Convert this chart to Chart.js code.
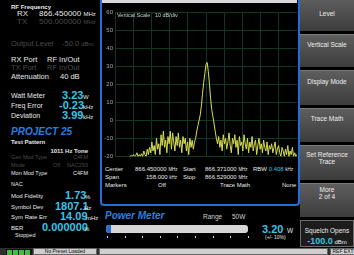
<!DOCTYPE html>
<html>
<head>
<meta charset="utf-8">
<script src="https://cdn.jsdelivr.net/npm/chart.js@4.4.1/dist/chart.umd.min.js"></script>
<style>
  html, body { margin: 0; padding: 0; background: #000; }
  #screen { position: relative; width: 354px; height: 255px; overflow: hidden; background: #000;
            font-family: "Liberation Sans", Arial, sans-serif; color: #e8e8e8; }
  .t { position: absolute; white-space: nowrap; line-height: 1; }
  .g { color: #4c4c4c; }
  .c { color: #35c6e8; font-weight: bold; }
  .u { font-size: 6px; }
  .r { text-align: right; }
  .p25 { color: #2a7ee0; font-weight: bold; font-style: italic; }
  #panel { position: absolute; left: 100px; top: 0; width: 196px; height: 204px;
           border: 2px solid #1f6fd6; border-top: none; border-radius: 0 0 4px 4px; }
  #topstrip { position: absolute; left: 102px; top: 0; width: 195px; height: 3px; background: #d8d8d8; }
  #plot { position: absolute; left: 101px; top: 0; }
  .btn { position: absolute; left: 300px; width: 54px; background: linear-gradient(#5e5e5e, #3c3c3c);
         border-top: 1px solid #7a7a7a; box-sizing: border-box; text-align: center; font-size: 6.5px; color: #f0f0f0; }
  .btn div { line-height: 1.15; }
  #bar { position: absolute; left: 106px; top: 225px; width: 142px; height: 8px; background: #d6d6d6;
         border-radius: 3px; overflow: hidden; }
  #bar div { width: 5px; height: 100%; background: #2a6fd0; }
  #ticks { position: absolute; left: 107px; top: 236px; width: 142px; height: 2px;
           background: repeating-linear-gradient(90deg, #ddd 0 1px, transparent 1px 17.6px); }
  #status { position: absolute; left: 0; top: 248px; width: 354px; height: 7px; background: #2e2e2e; }
  .box { position: absolute; top: 0; height: 7px; background: #cfcfcf; border: 1px solid #666; box-sizing: border-box;
         font-size: 5px; color: #111; text-align: center; line-height: 5px; }
</style>
</head>
<body>
<div id="screen">
  <!-- left readout column -->
  <div class="t" style="left:11px;top:4px;font-size:6px;font-weight:bold">RF Frequency</div>
  <div class="t" style="left:17px;top:10px;font-size:8px">RX</div>
  <div class="t" style="left:39px;top:10px;font-size:8px">866.450000 <span class="u">MHz</span></div>
  <div class="t g" style="left:17px;top:18px;font-size:8px">TX</div>
  <div class="t g" style="left:39px;top:18px;font-size:8px">500.000000 <span class="u">MHz</span></div>
  <div class="t g" style="left:11px;top:40px;font-size:7.5px">Output Level</div>
  <div class="t g" style="left:62px;top:40px;font-size:7.5px">-50.0 <span class="u">dBm</span></div>
  <div class="t" style="left:11px;top:56px;font-size:7.5px">RX Port</div>
  <div class="t" style="left:47px;top:56px;font-size:7.5px">RF In/Out</div>
  <div class="t g" style="left:11px;top:64px;font-size:7.5px">TX Port</div>
  <div class="t g" style="left:47px;top:64px;font-size:7.5px">RF In/Out</div>
  <div class="t" style="left:11px;top:73px;font-size:7.5px">Attenuation</div>
  <div class="t" style="left:60px;top:73px;font-size:7.5px">40 dB</div>

  <div class="t" style="left:11px;top:92px;font-size:7px">Watt Meter</div>
  <div class="t c" style="left:62px;top:90px;font-size:11px">3.23</div>
  <div class="t u" style="left:83px;top:94px">W</div>
  <div class="t" style="left:11px;top:102px;font-size:7px">Freq Error</div>
  <div class="t c" style="left:59px;top:100px;font-size:11px">-0.23</div>
  <div class="t u" style="left:83px;top:104px">kHz</div>
  <div class="t" style="left:11px;top:112px;font-size:7px">Deviation</div>
  <div class="t c" style="left:62px;top:110px;font-size:11px">3.99</div>
  <div class="t u" style="left:83px;top:114px">kHz</div>

  <div class="t p25" style="left:11px;top:127px;font-size:10px">PROJECT 25</div>
  <div class="t" style="left:11px;top:139px;font-size:6px;font-weight:bold">Test Pattern</div>
  <div class="t r" style="left:40px;width:48px;top:148px;font-size:6px;font-weight:bold">1011 Hz Tone</div>
  <div class="t g" style="left:11px;top:155px;font-size:5.5px">Gen Mod Type</div>
  <div class="t g r" style="left:60px;width:28px;top:155px;font-size:5.5px">C4FM</div>
  <div class="t g" style="left:11px;top:163px;font-size:5.5px">Mode</div>
  <div class="t g" style="left:53px;top:163px;font-size:5.5px">Off</div>
  <div class="t g" style="left:67px;top:163px;font-size:5.5px">NAC</div>
  <div class="t g r" style="left:70px;width:18px;top:163px;font-size:5.5px">293</div>
  <div class="t" style="left:11px;top:171px;font-size:5.5px">Mon Mod Type</div>
  <div class="t r" style="left:60px;width:28px;top:171px;font-size:5.5px">C4FM</div>
  <div class="t" style="left:11px;top:182px;font-size:5.5px">NAC</div>

  <div class="t" style="left:11px;top:193px;font-size:6px">Mod Fidelity</div>
  <div class="t c" style="left:65px;top:190px;font-size:11px">1.73</div>
  <div class="t u" style="left:85px;top:194px">%</div>
  <div class="t" style="left:11px;top:204px;font-size:6px">Symbol Dev</div>
  <div class="t c" style="left:55px;top:201px;font-size:11px">1807.1</div>
  <div class="t u" style="left:84px;top:205px">Hz</div>
  <div class="t" style="left:11px;top:214px;font-size:6px">Sym Rate Err</div>
  <div class="t c" style="left:60px;top:211px;font-size:11px">14.09</div>
  <div class="t u" style="left:86px;top:215px">mHz</div>
  <div class="t" style="left:11px;top:225px;font-size:6px">BER</div>
  <div class="t c" style="left:42px;top:222px;font-size:11px">0.000000</div>
  <div class="t u" style="left:84px;top:226px">%</div>
  <div class="t" style="left:15px;top:233px;font-size:5.5px">Stopped</div>

  <!-- spectrum panel -->
  <div id="panel"></div>
  <div id="topstrip"></div>
  <canvas id="plot" width="196" height="162"></canvas>
  <div class="t" style="left:117px;top:13px;font-size:5.5px;color:#d0d0d0">Vertical Scale &nbsp; 10 dB/div</div>

  <div class="t" style="left:105px;top:166px;font-size:6px">Center</div>
  <div class="t" style="left:135px;top:166px;font-size:6px">866.450000 <span style="font-size:4.5px">MHz</span></div>
  <div class="t" style="left:183px;top:166px;font-size:6px">Start</div>
  <div class="t" style="left:205px;top:166px;font-size:6px">866.371000 <span style="font-size:4.5px">MHz</span></div>
  <div class="t" style="left:253px;top:166px;font-size:6px">RBW <span class="c" style="font-weight:normal">0.408</span> <span style="font-size:4.5px">kHz</span></div>
  <div class="t" style="left:105px;top:174px;font-size:6px">Span</div>
  <div class="t" style="left:146px;top:174px;font-size:6px">158.000 <span style="font-size:4.5px">kHz</span></div>
  <div class="t" style="left:183px;top:174px;font-size:6px">Stop</div>
  <div class="t" style="left:205px;top:174px;font-size:6px">866.529000 <span style="font-size:4.5px">MHz</span></div>
  <div class="t" style="left:105px;top:182px;font-size:6px">Markers</div>
  <div class="t" style="left:158px;top:182px;font-size:6px">Off</div>
  <div class="t" style="left:220px;top:182px;font-size:6px">Trace Math</div>
  <div class="t" style="left:282px;top:182px;font-size:6px">None</div>

  <!-- power meter -->
  <div class="t p25" style="left:105px;top:211px;font-size:10px">Power Meter</div>
  <div class="t" style="left:203px;top:214px;font-size:6.5px;color:#d0d0d0">Range</div>
  <div class="t" style="left:232px;top:214px;font-size:6.5px;color:#d0d0d0">50W</div>
  <div id="bar"><div></div></div>
  <div id="ticks"></div>
  <div class="t c" style="left:262px;top:224px;font-size:11px">3.20</div>
  <div class="t" style="left:287px;top:228px;font-size:6.5px">W</div>
  <div class="t" style="left:265px;top:235px;font-size:5px">(+/- 10%)</div>

  <!-- soft keys -->
  <div class="btn" style="top:-2px;height:33px"><div style="margin-top:11px">Level</div></div>
  <div class="btn" style="top:34px;height:33px"><div style="margin-top:6px">Vertical Scale</div></div>
  <div class="btn" style="top:70px;height:35px"><div style="margin-top:7px">Display Mode</div></div>
  <div class="btn" style="top:108px;height:34px"><div style="margin-top:6px">Trace Math</div></div>
  <div class="btn" style="top:145px;height:35px"><div style="margin-top:5px">Set Reference<br>Trace</div></div>
  <div class="btn" style="top:183px;height:34px"><div style="margin-top:2px">More<br>2 of 4</div></div>
  <div class="btn" style="top:220px;height:27px;background:#1c1c1c;border:1px solid #6a6a6a">
    <div style="margin-top:6px">Squelch Opens</div>
    <div style="margin-top:2px"><span class="c" style="font-size:9px">-100.0</span> <span style="font-size:6px">dBm</span></div>
  </div>

  <!-- status bar -->
  <div id="status">
    <div style="position:absolute;left:6px;top:1px;width:24px;height:5px;border:1px solid #111;background:repeating-linear-gradient(90deg,#3fbf3f 0 5px,#111 5px 6px)"></div>
    <div class="box" style="left:33px;width:64px">No Preset Loaded</div>
    <div class="box" style="left:99px;width:229px"></div>
    <div class="box" style="left:330px;width:26px">REF EXT</div>
  </div>
</div>

<script>
// sweep settings (MHz)
const sweepStart = 866.371;
const sweepStop = 866.529;
const sweepStep = 0.001;

// level axis (dBm)
const levelMin = -20;
const levelMax = 60;
const levelStep = 10;

// trace levels, one per sweep point (dBm)
const traceLevels = [
  -21, -20.5, -22, -21, -20.5, -22, -21, -22, -21, -22, -20.5, -21, -22,
  -20, -19.5, -20, -19, -20, -19.5, -18, -20, -19, -20, -18.5, -20, -17, -19, -20, -16, -19,
  -15, -18, -12, -17, -14, -19, -10, -16, -13, -19, -8, -14, -6, -15, -11, -18, -9, -13, -6, -16,
  -7, -12, -17, -9, -14, -7, -15, -11, -18, -9, -13, -10, -17, -12, -19, -10, -15, -11, -16,
  -12, -10, -6, -3, 0, 3, 8, 15, 21, 26, 31, 32, 27, 20, 12, 6, 2, -2, -6, -10, -13,
  -9, -15, -11, -17, -8, -13, -10, -16, -12, -7, -14, -18, -10, -13, -8, -15, -11, -19, -9, -14,
  -12, -17, -8, -13, -16, -10, -18, -12, -15, -9, -17, -13, -11, -19, -14, -10, -16, -13, -18, -11,
  -15, -17, -12, -19, -14, -16, -13, -18, -15, -12, -19, -16, -14, -18, -20, -15, -17, -20, -16, -19,
  -14, -20, -17, -19, -15, -20, -18, -20, -19
];

const gridColor = '#133620';
const traceColor = '#d9df50';

const points = traceLevels.map((v, i) => ({ x: sweepStart + i * sweepStep, y: v }));

const ctx = document.getElementById('plot').getContext('2d');
const chart = new Chart(ctx, {
    type: 'line',
    data: {
        datasets: [{
            data: points,
            borderColor: traceColor,
            borderWidth: 1,
            pointRadius: 0,
            tension: 0
        }]
    },
    options: {
        responsive: false,
        animation: false,
        layout: { padding: { top: 12, right: 0, bottom: 1, left: 0 } },
        plugins: { legend: { display: false }, tooltip: { enabled: false } },
        scales: {
            x: {
                type: 'linear',
                min: sweepStart,
                max: sweepStop,
                ticks: { display: false },
                grid: { color: gridColor, drawTicks: false },
                border: { display: false },
                afterBuildTicks: function (scale) {
                    const div = (sweepStop - sweepStart) / 10;
                    const t = [];
                    for (let k = 0; k <= 10; k++) t.push({ value: sweepStart + k * div });
                    scale.ticks = t;
                },
                afterFit: function (scale) { scale.height = 0; }
            },
            y: {
                min: levelMin,
                max: levelMax,
                ticks: {
                    stepSize: levelStep,
                    color: '#a8a8a8',
                    padding: 2,
                    font: { size: 6, family: 'Liberation Sans' }
                },
                grid: { color: gridColor, drawTicks: false },
                border: { display: false },
                afterFit: function (scale) { scale.width = 14; }
            }
        }
    }
});
</script>
</body>
</html>
